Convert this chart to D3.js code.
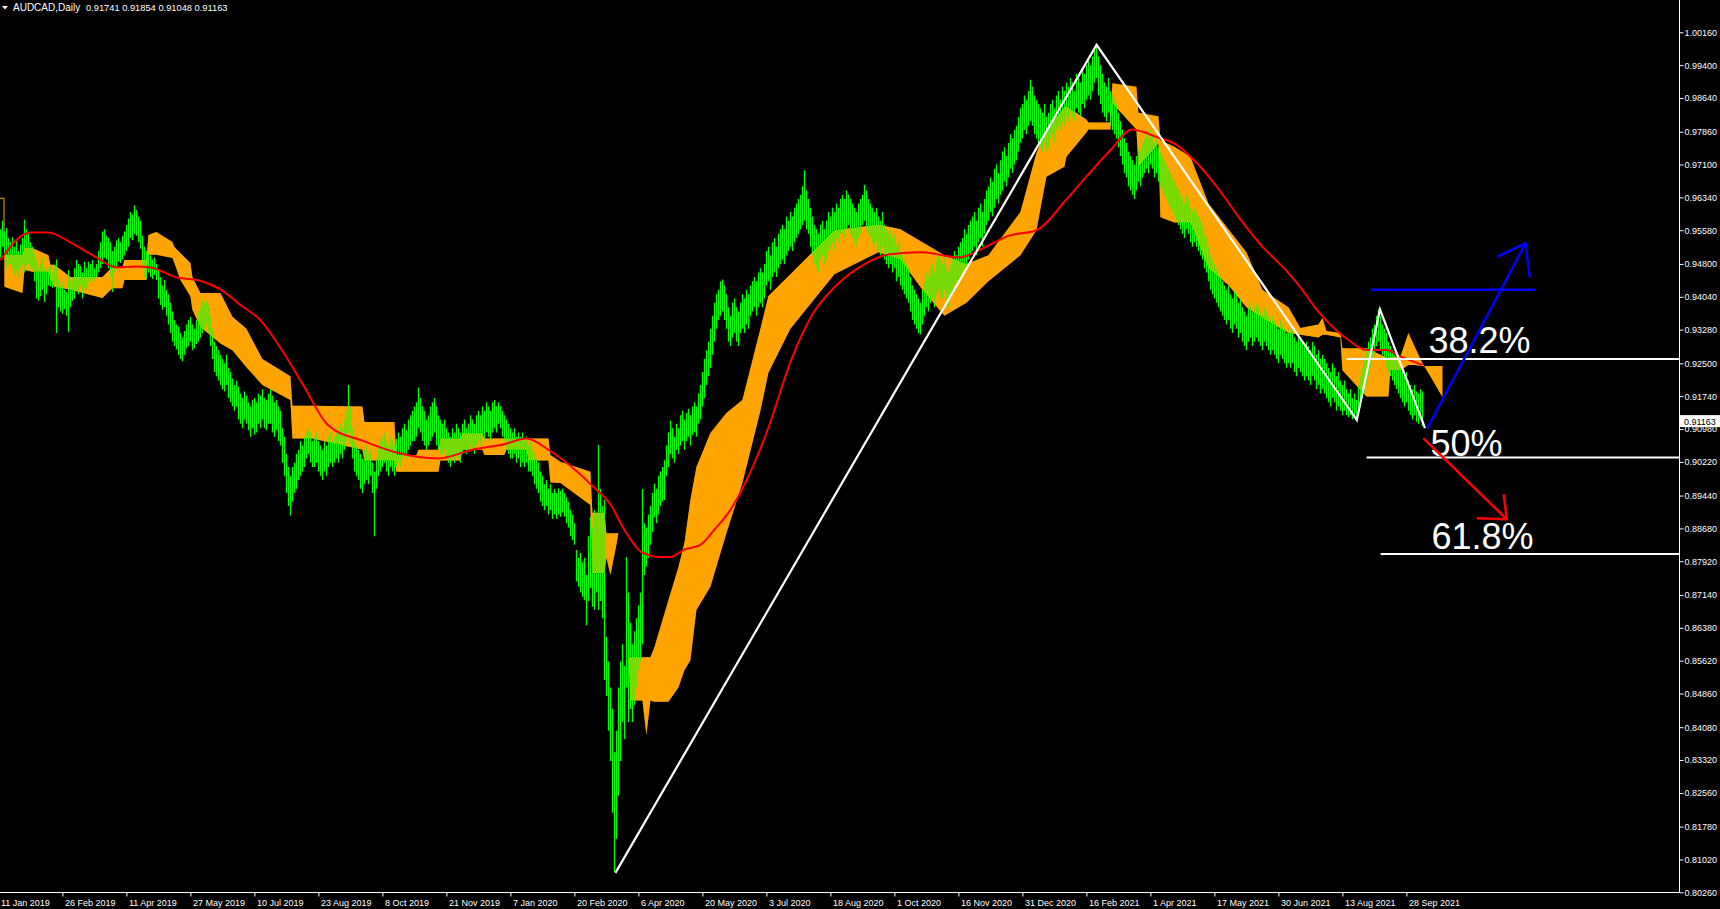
<!DOCTYPE html>
<html>
<head>
<meta charset="utf-8">
<script src="https://cdn.jsdelivr.net/npm/d3@7"></script>
<style>
  body { margin: 0; background: #000; }
  svg { display: block; }
  text { font-family: "Liberation Sans", Arial, sans-serif; fill: #fff; }
</style>
</head>
<body>
<div id="chart"></div>
<script>
// ---- data (prices in 1/10000, bar index = trading day from 11 Jan 2019) ----
const symbolTitle = "AUDCAD,Daily";
const lastOHLC = ["0.91741", "0.91854", "0.91048", "0.91163"];
const lastClose = 0.91163;

const dateLabels = ["11 Jan 2019", "26 Feb 2019", "11 Apr 2019", "27 May 2019", "10 Jul 2019",
  "23 Aug 2019", "8 Oct 2019", "21 Nov 2019", "7 Jan 2020", "20 Feb 2020", "6 Apr 2020",
  "20 May 2020", "3 Jul 2020", "18 Aug 2020", "1 Oct 2020", "16 Nov 2020", "31 Dec 2020",
  "16 Feb 2021", "1 Apr 2021", "17 May 2021", "30 Jun 2021", "13 Aug 2021", "28 Sep 2021"];
const barsPerLabel = 32;

const priceTicks = [1.00160, 0.99400, 0.98640, 0.97860, 0.97100, 0.96340, 0.95580, 0.94800,
  0.94040, 0.93280, 0.92500, 0.91740, 0.90980, 0.90220, 0.89440, 0.88680, 0.87920, 0.87140,
  0.86380, 0.85620, 0.84860, 0.84080, 0.83320, 0.82560, 0.81780, 0.81020, 0.80260];

// daily bars [high, low]
const barHL = [
  // 0
  [9575,9510],[9560,9495],[9580,9520],[9555,9500],[9563,9470],[9540,9480],[9530,9480],
  [9542,9470],[9520,9455],[9535,9465],[9510,9450],[9525,9470],[9540,9480],[9582,9460],[9560,9475],
  [9550,9480],[9530,9466],[9520,9470],
  // 18
  [9505,9440],[9490,9400],[9470,9395],[9480,9405],[9495,9420],[9470,9392],[9465,9410],
  [9470,9430],[9475,9428],[9460,9425],[9478,9435],[9490,9320],
  [9445,9380],[9430,9370],[9440,9365],[9420,9375],[9415,9360],[9466,9322],[9440,9380],
  // 37
  [9450,9395],[9470,9400],[9489,9420],[9480,9410],[9475,9430],[9460,9400],[9485,9425],[9470,9420],
  [9485,9440],[9480,9436],[9489,9445],[9470,9440],[9480,9450],
  [9510,9460],[9530,9470],[9555,9480],[9560,9495],[9545,9490],
  [9540,9470],[9530,9450],[9510,9415],[9520,9460],[9535,9470],
  [9540,9485],[9530,9482],[9545,9490],[9555,9500],
  // 64
  [9570,9510],[9585,9520],[9600,9540],[9595,9535],[9616,9550],[9605,9545],[9590,9530],[9580,9515],
  [9545,9470],[9520,9450],[9510,9445],
  [9505,9460],[9500,9450],[9490,9445],[9495,9455],[9480,9443],
  [9466,9400],[9450,9385],[9430,9374],
  [9443,9380],[9420,9360],[9410,9340],[9390,9320],[9370,9300],[9350,9290],[9340,9282],
  // 90
  [9335,9270],[9320,9260],[9310,9255],[9325,9270],[9340,9285],
  [9350,9290],[9357,9300],[9340,9281],[9330,9285],[9350,9295],[9370,9300],
  [9380,9310],[9397,9320],[9390,9330],[9395,9340],[9385,9320],
  [9360,9290],[9330,9260],[9300,9230],[9290,9220],[9280,9210],[9270,9200],
  // 112
  [9260,9190],[9250,9185],[9270,9200],[9240,9170],[9230,9160],[9215,9150],[9200,9140],[9210,9150],
  [9195,9120],[9180,9110],[9170,9100],[9185,9120],[9175,9110],[9160,9095],[9150,9080],[9165,9100],
  [9170,9085],[9160,9090],[9180,9110],[9175,9100],[9190,9120],[9170,9100],[9165,9095],[9180,9110],
  [9190,9110],[9175,9090],[9160,9080],[9165,9095],[9150,9070],[9140,9060],
  // 142
  [9100,9020],[9080,8990],[9040,8950],[9010,8920],[8990,8898],[9010,8930],[9020,8950],[9040,8960],
  [9050,8980],[9070,8990],[9060,9000],[9080,9010],[9090,9030],[9100,9040],[9090,9020],[9070,9010],
  [9080,9010],[9090,9020],[9070,9000],[9060,8990],[9050,8980],[9070,9000],[9060,8990],[9080,9010],
  // 166
  [9090,9020],[9070,9010],[9080,9020],[9100,9030],[9090,9020],[9110,9040],[9100,9030],[9120,9050],[9140,9070],
  [9200,9090],
  [9150,9060],[9100,9030],[9070,9000],[9060,8990],[9050,8980],[9040,8960],[9030,8950],[9050,8970],
  // 184
  [9060,8980],[9040,8970],[9050,8990],[9020,8950],[9000,8850],[9030,8960],[9060,8990],[9070,9000],
  [9080,9010],[9090,9020],[9070,9000],[9060,8990],[9080,9010],[9070,9000],[9060,8990],[9075,9010],
  [9090,9020],[9080,9010],[9100,9030],[9110,9040],[9095,9030],[9120,9050],[9130,9060],[9140,9070],
  // 208
  [9150,9070],[9160,9080],[9194,9100],[9170,9090],[9150,9070],[9140,9060],[9120,9050],[9130,9060],
  [9150,9070],[9160,9080],[9170,9090],[9150,9060],[9130,9050],[9120,9040],[9110,9040],[9120,9050],
  [9100,9030],[9090,9020],[9080,9010],[9100,9030],[9090,9020],[9110,9040],[9100,9030],[9090,9020],
  // 232
  [9110,9040],[9120,9050],[9100,9040],[9110,9050],[9130,9060],[9120,9050],[9110,9040],[9130,9060],
  [9140,9070],[9130,9060],[9150,9080],[9140,9070],[9160,9090],[9150,9080],[9140,9070],[9160,9090],
  [9165,9100],[9150,9090],[9160,9110],[9151,9100],[9140,9080],[9130,9070],
  // 254
  [9120,9050],[9110,9040],[9100,9030],[9090,9030],[9100,9040],[9080,9020],[9090,9030],[9080,9010],
  [9090,9020],[9070,9010],[9080,9020],[9060,9000],[9070,9000],[9050,8990],[9040,8970],[9030,8960],
  [9020,8950],[9000,8930],[8990,8920],[8970,8910],[8980,8920],[8960,8900],[8970,8910],[8950,8890],
  // 278
  [8960,8900],[8950,8890],[8961,8900],[8955,8895],[8960,8905],[8950,8895],[8940,8880],[8930,8870],
  [8911,8850],[8900,8841],[8880,8830],[8818,8745],[8800,8733],
  [8811,8720],[8790,8710],[8800,8702],[8760,8644],
  [8850,8700],[8895,8730],[8870,8687],
  // 298
  [8910,8680],[8900,8720],[9061,8679],[8960,8700],[8920,8660],[8934,8517],[8617,8480],[8560,8400],
  [8500,8330],[8450,8210],[8350,8073],[8400,8150],[8500,8250],[8560,8330],[8600,8420],[8550,8380],
  [8802,8500],[8720,8420],[8650,8450],[8600,8420],[8630,8460],[8660,8500],[8690,8540],[8720,8560],
  [8960,8600],[8880,8760],
  // 324
  [8870,8780],[8900,8800],[8920,8830],[8950,8860],[8972,8894],[8960,8880],[8990,8900],[9000,8920],
  [9010,8930],[9026,8934],
  [9060,8990],[9090,9010],[9118,9040],[9100,9030],[9080,9020],[9110,9050],[9100,9040],
  [9130,9060],[9140,9070],[9120,9050],[9135,9070],[9145,9080],[9130,9060],[9150,9085],[9160,9090],[9150,9080],
  // 350
  [9180,9110],[9200,9120],[9230,9150],[9260,9170],[9280,9200],[9300,9220],
  [9330,9240],[9360,9270],[9390,9300],[9410,9330],[9420,9350],[9440,9360],[9444,9370],[9430,9350],
  // 364
  [9410,9330],[9380,9300],[9360,9290],[9390,9310],[9400,9320],[9380,9300],[9370,9290],[9390,9320],
  [9410,9330],[9400,9320],[9420,9340],[9410,9330],
  // 376
  [9430,9360],[9440,9370],[9450,9380],[9440,9360],[9460,9380],[9470,9390],[9460,9380],[9480,9400],
  [9510,9430],[9520,9440],[9500,9420],[9530,9450],[9540,9460],[9520,9450],[9550,9470],[9560,9480],
  [9570,9490],[9560,9480],[9590,9500],[9580,9510],[9600,9520],[9590,9510],[9610,9530],[9620,9540],
  // 400
  [9630,9550],[9640,9560],[9660,9570],[9697,9580],[9650,9560],[9630,9550],
  [9610,9520],[9590,9500],[9570,9480],[9560,9470],[9550,9460],[9570,9490],[9580,9500],[9560,9480],
  [9580,9490],[9600,9510],[9590,9520],[9610,9530],[9600,9510],[9620,9540],[9610,9530],[9630,9550],
  // 422
  [9640,9550],[9630,9540],[9650,9560],[9640,9570],[9630,9550],[9620,9540],[9610,9530],[9600,9520],
  [9620,9540],[9630,9550],[9640,9570],[9663,9580],[9650,9560],[9630,9550],[9620,9540],[9610,9530],
  [9600,9520],[9610,9530],[9590,9510],[9580,9500],[9600,9520],[9570,9490],[9560,9480],[9550,9470],
  // 446
  [9560,9480],[9540,9460],[9550,9470],[9520,9440],[9530,9450],[9510,9430],[9500,9420],[9490,9410],
  [9480,9400],[9470,9390],[9450,9370],[9430,9350],[9420,9340],[9410,9330],[9400,9320],[9390,9317],
  [9420,9340],[9440,9360],[9460,9380],[9450,9370],[9470,9390],[9480,9400],[9460,9380],[9490,9410],
  // 470
  [9500,9420],[9490,9400],[9480,9400],[9500,9420],[9470,9390],[9460,9380],[9480,9400],[9490,9410],
  [9510,9430],[9500,9420],[9520,9440],[9530,9450],[9540,9460],[9560,9470],[9550,9470],[9570,9490],
  [9580,9500],[9590,9510],[9600,9520],[9580,9500],[9610,9530],[9620,9540],[9600,9520],[9630,9550],
  // 494
  [9650,9570],[9660,9580],[9680,9600],[9670,9590],[9700,9610],[9710,9630],[9690,9620],[9720,9640],
  [9740,9650],[9750,9670],[9730,9660],[9760,9680],[9780,9700],[9770,9690],[9790,9710],[9800,9720],
  [9820,9740],[9840,9760],[9850,9770],[9870,9790],[9860,9780],[9880,9800],[9906,9810],[9890,9800],
  // 518
  [9870,9780],[9860,9770],[9850,9760],[9840,9750],[9830,9740],[9850,9760],[9820,9740],[9830,9750],
  [9850,9770],[9860,9780],[9840,9760],[9870,9790],[9880,9800],[9860,9790],[9890,9810],[9880,9800],
  [9900,9820],[9890,9810],[9910,9830],[9900,9820],[9880,9810],[9920,9840],[9910,9830],[9900,9820],
  // 542
  [9930,9850],[9920,9840],[9940,9860],[9950,9870],[9940,9860],[9960,9880],[9975,9900],[9989,9910],
  [9960,9870],[9940,9850],[9920,9830],[9900,9820],[9890,9810],[9910,9830],[9880,9800],[9870,9790],
  [9860,9780],[9850,9770],[9830,9750],[9810,9730],[9790,9710],[9770,9690],[9760,9680],[9740,9660],
  // 566
  [9730,9650],[9720,9640],[9710,9630],[9730,9650],[9750,9670],[9740,9660],[9760,9680],[9770,9690],
  [9780,9700],[9770,9690],[9790,9710],[9780,9700],[9760,9680],[9770,9690],[9750,9670],[9740,9660],
  [9730,9650],[9720,9640],[9710,9630],[9700,9620],[9690,9610],[9680,9600],[9670,9590],[9660,9580],
  // 590
  [9650,9570],[9640,9560],[9630,9550],[9620,9540],[9640,9560],[9630,9550],[9610,9530],[9600,9520],
  [9610,9530],[9600,9520],[9590,9510],[9580,9500],[9570,9490],[9550,9470],[9540,9460],[9520,9440],
  [9500,9420],[9490,9410],[9480,9400],[9470,9390],[9460,9380],[9450,9370],[9440,9360],[9430,9350],
  // 614
  [9420,9340],[9430,9350],[9410,9330],[9400,9320],[9420,9340],[9410,9330],[9390,9310],[9400,9320],
  [9380,9300],[9370,9290],[9360,9280],[9380,9300],[9390,9310],[9370,9290],[9380,9300],[9390,9310],
  [9380,9300],[9370,9290],[9360,9280],[9380,9300],[9370,9290],[9360,9280],[9350,9270],[9360,9280],
  // 638
  [9350,9270],[9340,9260],[9330,9250],[9350,9270],[9340,9260],[9330,9250],[9320,9240],[9330,9250],
  [9320,9240],[9330,9250],[9310,9230],[9300,9220],[9320,9240],[9310,9230],[9300,9220],[9290,9210],
  [9300,9220],[9290,9210],[9280,9200],[9300,9220],[9290,9210],[9270,9190],[9280,9200],[9260,9180],
  // 662
  [9270,9190],[9260,9180],[9250,9170],[9240,9160],[9230,9150],[9250,9170],[9240,9160],[9220,9140],
  [9230,9150],[9210,9140],[9200,9130],[9210,9140],[9190,9130],[9180,9125],[9190,9130],[9170,9120],[9180,9125],[9165,9118],
  // 680
  [9200,9130],[9220,9150],[9240,9170],[9260,9180],[9280,9200],[9300,9220],[9310,9240],[9330,9260],[9340,9270],[9360,9290],[9375,9300],
  // 691
  [9360,9280],[9340,9270],[9330,9260],[9320,9240],[9300,9230],[9290,9220],[9280,9210],[9270,9200],
  [9260,9190],[9250,9180],[9240,9170],[9230,9160],[9220,9150],[9230,9160],[9210,9140],[9200,9130],
  [9190,9120],[9200,9130],[9185,9115],[9180,9110],[9190,9120],[9185,9105]
];

// orange cloud: two span lines
const cloudIdx = [3,12,13,17,25,26,28,36,52,57,62,63,74,75,79,87,88,91,96,97,101,111,117,124,132,146,147,157,
  182,183,198,199,209,210,220,221,231,232,242,243,253,254,264,265,275,276,281,296,297,303,304,306,309,310,
  315,316,322,324,326,328,335,340,343,346,349,356,364,372,381,385,396,418,440,451,462,473,484,495,511,519,524,533,
  534,544,545,556,557,569,570,580,581,588,596,605,615,624,632,645,651,660,662,664,671,672,684,695,696,701,
  705,708,712,716,722];
const spanA = [9501,9501,9517,9517,9500,9478,9478,9450,9450,9473,9473,9489,9489,9547,9554,9531,9519,9505,9482,9450,
  9413,9413,9358,9330,9260,9220,9152,9152,9150,9114,9114,9038,9038,9050,9050,9076,9076,9088,9088,9076,9076,9076,
  9076,9076,9076,9038,9022,8999,8904,8904,8857,8857,8857,8857,8570,8570,8570,8570,8570,8593,8702,8778,8834,8934,
  9010,9089,9135,9165,9330,9406,9456,9558,9571,9560,9530,9500,9480,9500,9600,9736,9791,9842,9845,9814,9807,9807,9898,9890,
  9830,9822,9766,9751,9728,9620,9560,9507,9420,9380,9332,9340,9355,9325,9320,9285,9285,9262,9265,9265,9320,9290,
  9250,9220,9172];
const spanB = [9427,9413,9466,9462,9462,9443,9427,9420,9401,9424,9424,9443,9443,9501,9501,9494,9482,9443,9405,9374,
  9334,9296,9280,9241,9200,9165,9076,9076,9050,9025,9025,8999,8999,8999,8999,9025,9025,9050,9050,9038,9038,9050,
  9050,9025,9025,8974,8973,8922,8765,8765,8800,8760,8830,8857,8570,8470,8470,8390,8470,8467,8467,8500,8540,8563,
  8679,8733,8857,8973,9140,9228,9330,9456,9507,9490,9420,9360,9390,9440,9500,9558,9682,9705,9728,9784,9791,9791,9852,9791,
  9705,9758,9588,9576,9576,9470,9431,9380,9355,9320,9316,9310,9316,9316,9310,9234,9173,9173,9234,9234,9246,9246,
  9244,9244,9244];

// thin orange line, visible only at the left edge
const thinIdx = [0, 2.8, 2.8];
const thinVal = [9632, 9632, 9520];

// red moving average
const maIdx = [1,16,25,36,49,59,69,76,89,101,111,121,131,141,152,165,182,198,220,237,253,264,275,288,298,306,313,
  322,331,336,343,351,358,366,373,379,385,396,407,418,434,445,462,480,494,505,519,534,544,556,567,572,579,589,596,
  601,610,621,632,643,651,659,667,675,684,694,701,712];
const maVal = [9489,9553,9553,9530,9495,9472,9474,9472,9449,9441,9421,9385,9350,9286,9203,9106,9071,9045,9030,9050,
  9063,9076,9050,9005,8962,8924,8865,8812,8802,8802,8819,8830,8865,8911,8969,9030,9101,9253,9363,9426,9482,9502,
  9507,9495,9520,9545,9558,9629,9682,9743,9791,9786,9774,9756,9728,9705,9654,9583,9520,9469,9426,9375,9335,9304,
  9281,9281,9266,9246];

// drawn objects
const zigzagIdx = [308.5, 549.1, 679.2, 690.8, 713.3];
const zigzagVal = [0.8071, 0.9987, 0.9119, 0.9375, 0.9100];
const fibLabels = ["38.2%", "50%", "61.8%"];
const fibLevels = [0.9260, 0.9032, 0.8809];
const fibStartIdx = [674.1, 684.1, 691.1];
const blueLevel = 0.9420;
const blueLevelIdx = [686.3, 768.3];
const blueArrow = { from: [714.6, 0.9101], to: [763.6, 0.9528] };
const redArrow = { from: [712.8, 0.9075], to: [754.2, 0.8889] };

// ---- drawing ----
const W = 1720, H = 909;
const plotRight = 1679, plotBottom = 892.5;

const svg = d3.select("#chart").append("svg").attr("width", W).attr("height", H);
svg.append("rect").attr("width", W).attr("height", H).attr("fill", "#000");

const x = d3.scaleLinear().domain([0, 840]).range([-1.6, 1678.4]);
const y = d3.scaleLinear().domain([0.8026, 1.0016]).range([892.3, 32.3]);

svg.append("defs").append("clipPath").attr("id", "plotclip")
  .append("rect").attr("x", 0).attr("y", 0).attr("width", plotRight).attr("height", plotBottom);
const plot = svg.append("g").attr("clip-path", "url(#plotclip)");

// cloud
const cloud = cloudIdx.map((d, k) => ({ i: d, a: spanA[k] / 1e4, b: spanB[k] / 1e4 }));
const cloudArea = d3.area().x(d => x(d.i)).y0(d => y(d.a)).y1(d => y(d.b));
plot.append("path").datum(cloud).attr("fill", "#ffa500").attr("d", cloudArea);

// thin orange line
plot.append("path").datum(thinIdx.map((d, k) => [x(d), y(thinVal[k] / 1e4)]))
  .attr("fill", "none").attr("stroke", "#ffa500").attr("stroke-width", 1)
  .attr("d", d3.line());

// bars
const bars = barHL.map((d, i) => ({ i, hi: d[0] / 1e4, lo: d[1] / 1e4 }));
plot.append("path")
  .attr("d", bars.map(d => `M${Math.round(x(d.i)) + 0.5},${y(d.hi)}V${y(d.lo)}`).join(""))
  .attr("stroke", "#00ff00").attr("stroke-width", 1.3).attr("fill", "none");

// cloud tint over bars (bars inside the cloud look yellow-green)
plot.append("path").datum(cloud).attr("fill", "#ffa500").attr("fill-opacity", 0.45).attr("d", cloudArea);

// moving average
const ma = maIdx.map((d, k) => ({ i: d, v: maVal[k] / 1e4 }));
plot.append("path").datum(ma)
  .attr("fill", "none").attr("stroke", "#ff0000").attr("stroke-width", 2)
  .attr("d", d3.line().curve(d3.curveMonotoneX).x(d => x(d.i)).y(d => y(d.v)));

// zigzag
const zz = zigzagIdx.map((d, k) => [x(d), y(zigzagVal[k])]);
plot.append("path").attr("d", d3.line()(zz))
  .attr("fill", "none").attr("stroke", "#fff").attr("stroke-width", 2.2);

// fibonacci levels
const labelOffsets = [-6, -2, -4.5];
fibLevels.forEach((lv, k) => {
  plot.append("line")
    .attr("x1", x(fibStartIdx[k])).attr("x2", plotRight)
    .attr("y1", y(lv)).attr("y2", y(lv))
    .attr("stroke", "#fff").attr("stroke-width", 2);
  plot.append("text")
    .attr("x", x(715) + [0, 2, 3][k]).attr("y", y(lv) + labelOffsets[k])
    .attr("font-size", 36).text(fibLabels[k]);
});

// blue level + arrow
plot.append("line")
  .attr("x1", x(blueLevelIdx[0])).attr("x2", x(blueLevelIdx[1]))
  .attr("y1", y(blueLevel)).attr("y2", y(blueLevel))
  .attr("stroke", "#0000ff").attr("stroke-width", 2.5);

function arrow(a, color, wings) {
  const p0 = [x(a.from[0]), y(a.from[1])], p1 = [x(a.to[0]), y(a.to[1])];
  plot.append("path")
    .attr("d", `M${p0}L${p1}M${p1[0] + wings[0][0]},${p1[1] + wings[0][1]}L${p1}L${p1[0] + wings[1][0]},${p1[1] + wings[1][1]}`)
    .attr("fill", "none").attr("stroke", color).attr("stroke-width", 2.5)
    .attr("stroke-linejoin", "round").attr("stroke-linecap", "round");
}
arrow(blueArrow, "#0000ff", [[-27, 13], [4, 33]]);
arrow(redArrow, "#ff0000", [[-29, -1], [-3, -24]]);

// axes frame
svg.append("line").attr("x1", plotRight + 0.5).attr("x2", plotRight + 0.5).attr("y1", 0).attr("y2", plotBottom)
  .attr("stroke", "#fff");
svg.append("line").attr("x1", 0).attr("x2", plotRight + 0.5).attr("y1", plotBottom).attr("y2", plotBottom)
  .attr("stroke", "#fff");

const yAxis = svg.append("g").attr("transform", `translate(${plotRight + 0.5},0)`)
  .call(d3.axisRight(y).tickValues(priceTicks).tickFormat(d3.format(".5f")).tickSize(4).tickSizeOuter(0).tickPadding(1));
yAxis.select(".domain").remove();
yAxis.selectAll("line").attr("stroke", "#fff");
yAxis.selectAll("text").attr("fill", "#fff").attr("font-size", 9).attr("font-family", "Liberation Sans, Arial, sans-serif");

const labelIdx = dateLabels.map((d, k) => k * barsPerLabel);
const xAxis = svg.append("g").attr("transform", `translate(0,${plotBottom})`)
  .call(d3.axisBottom(x).tickValues(labelIdx).tickFormat((d, k) => dateLabels[k]).tickSize(4).tickSizeOuter(0).tickPadding(3));
xAxis.select(".domain").remove();
xAxis.selectAll("line").attr("stroke", "#fff");
xAxis.selectAll("text").attr("fill", "#fff").attr("font-size", 9).attr("text-anchor", "start").attr("dx", 2)
  .attr("font-family", "Liberation Sans, Arial, sans-serif");

// current price tag
const yc = y(lastClose);
svg.append("rect").attr("x", plotRight + 1).attr("y", yc - 6).attr("width", W - plotRight - 1).attr("height", 12).attr("fill", "#fff");
svg.append("text").attr("x", plotRight + 5).attr("y", yc + 3.5).attr("font-size", 9).style("fill", "#000")
  .text(d3.format(".5f")(lastClose));

// title
svg.append("path").attr("d", "M2,6L8,6L5,9.5Z").attr("fill", "#fff");
svg.append("text").attr("x", 13).attr("y", 11).attr("font-size", 10).text(symbolTitle);
svg.append("text").attr("x", 86).attr("y", 11).attr("font-size", 9.3).attr("xml:space", "preserve")
  .text(lastOHLC.join(" "));
</script>
</body>
</html>
